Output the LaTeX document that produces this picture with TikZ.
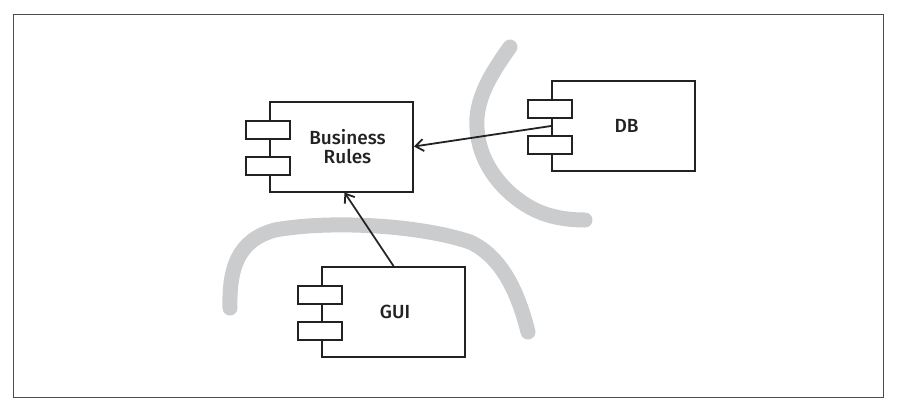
\documentclass[tikz,border=0pt]{standalone}
\usepackage{fontspec}
\setmainfont{Fira Sans}[UprightFont=* Medium]
\usepackage{xcolor}
\usetikzlibrary{arrows.meta}

\definecolor{bandgray}{HTML}{CBCCCD}
\definecolor{linegray}{HTML}{222222}

\begin{document}
\begin{tikzpicture}[x=1pt,y=-1pt,
  comp/.style={draw=linegray,line width=2pt,minimum width=143pt,minimum height=90pt,
    align=center,font=\fontsize{19}{18.5}\selectfont,text=linegray},
  port/.style={draw=linegray,fill=white,line width=2pt,minimum width=44pt,minimum height=18pt,inner sep=0pt},
  band/.style={bandgray,line width=15pt,line cap=round},
  dep/.style={->,>={Straight Barb[length=8pt,width=12pt]},line width=1.8pt,linegray}]
\useasboundingbox (0,0) rectangle (898,416);
\draw [line width=1.5pt,color=black!70] (13.5,14.5) rectangle (883.5,397.5);

% the two boundaries
\draw [band] (510,47) .. controls (490,75) and (475,100) .. (477,128)
  .. controls (479,165) and (505,195) .. (535,210) .. controls (552,218) and (570,220) .. (585,220);
\draw [band] (230,308) .. controls (229,268) and (238,240) .. (275,230)
  .. controls (330,220) and (420,225) .. (470,242) .. controls (505,258) and (520,300) .. (528,332);

% components
\node [comp] (br) at (341.5,146.5) {\hspace*{12pt}Business\\\hspace*{12pt}Rules};
\node [comp] (db) at (623.5,126) {\hspace*{6pt}DB};
\node [comp] (gui) at (393.5,312) {\hspace*{3pt}GUI};

\node [port] (br-a) at ([shift={(-1.5,-17)}]br.west) {};
\node [port] (br-b) at ([shift={(-1.5,19)}]br.west) {};
\node [port] (db-a) at ([shift={(-1.5,-17)}]db.west) {};
\node [port] (db-b) at ([shift={(-1.5,19)}]db.west) {};
\node [port] (gui-a) at ([shift={(-1.5,-17)}]gui.west) {};
\node [port] (gui-b) at ([shift={(-1.5,19)}]gui.west) {};

% dependencies
\draw [dep] (db.west) -- (br.east);
\draw [dep] (gui.north) -- ([xshift=3pt]br.south);

\end{tikzpicture}
\end{document}
